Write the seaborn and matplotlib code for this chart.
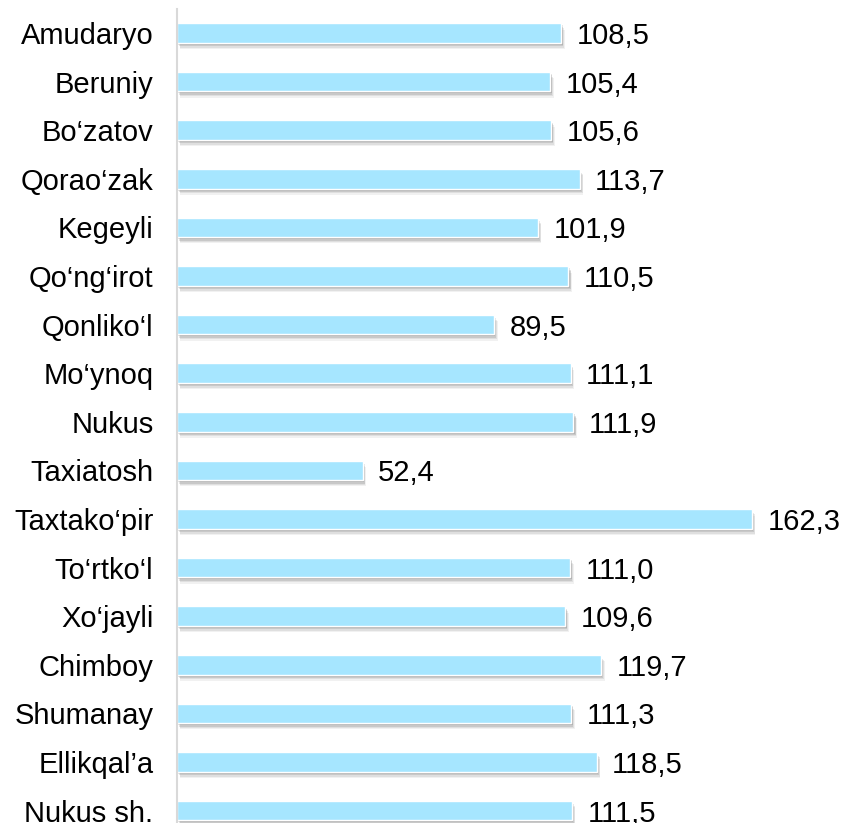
import matplotlib
matplotlib.use('Agg')
import matplotlib.pyplot as plt
import matplotlib.patheffects as pe
import pandas as pd
import seaborn as sns

districts = [
    'Amudaryo', 'Beruniy', 'Bo‘zatov', 'Qorao‘zak', 'Kegeyli', 'Qo‘ng‘irot',
    'Qonliko‘l', 'Mo‘ynoq', 'Nukus', 'Taxiatosh', 'Taxtako‘pir', 'To‘rtko‘l',
    'Xo‘jayli', 'Chimboy', 'Shumanay', 'Ellikqal’a', 'Nukus sh.',
]
values = [
    108.5, 105.4, 105.6, 113.7, 101.9, 110.5,
    89.5, 111.1, 111.9, 52.4, 162.3, 111.0,
    109.6, 119.7, 111.3, 118.5, 111.5,
]

BAR_COLOR = '#A6E6FF'
FONT_SIZE = 21

sns.set_style('white')
plt.rcParams['font.family'] = ['Liberation Sans', 'DejaVu Sans']

df = pd.DataFrame({'district': districts, 'value': values})

fig = plt.figure(figsize=(8.44, 8.23), dpi=100)
ax = fig.add_axes([0.2097, -0.01446, 0.7346, 1.0039])

sns.barplot(data=df, x='value', y='district', orient='h', color=BAR_COLOR,
            saturation=1, width=0.4, ax=ax)

# soft grey drop shadow under every bar (stacked layers fake a blur)
shadow = []
for dx, dy, a in [(1.0, -1.5, 0.16), (1.5, -2.5, 0.14), (2.0, -3.5, 0.10), (2.5, -4.5, 0.07)]:
    shadow.append(pe.SimplePatchShadow(offset=(dx, dy), shadow_rgbFace='#444444', alpha=a))
shadow.append(pe.Normal())
for patch in ax.patches:
    patch.set_path_effects(shadow)

labels = [f'{v:.1f}'.replace('.', ',') for v in values]
texts = ax.bar_label(ax.containers[0], labels=labels, padding=11, fontsize=FONT_SIZE, color='black')
for t in texts:
    t.set_va('center_baseline')

ax.set_xlim(0, 175)
ax.set_ylim(16.5, -0.5)
ax.set_xlabel('')
ax.set_ylabel('')
ax.set_xticks([])
ax.tick_params(axis='y', length=0, pad=17, labelsize=FONT_SIZE, labelcolor='black')

for side in ['top', 'right', 'bottom']:
    ax.spines[side].set_visible(False)
ax.spines['left'].set_color('#d9d9d9')
ax.spines['left'].set_linewidth(1.5)

fig.savefig('out.png', dpi=100)
